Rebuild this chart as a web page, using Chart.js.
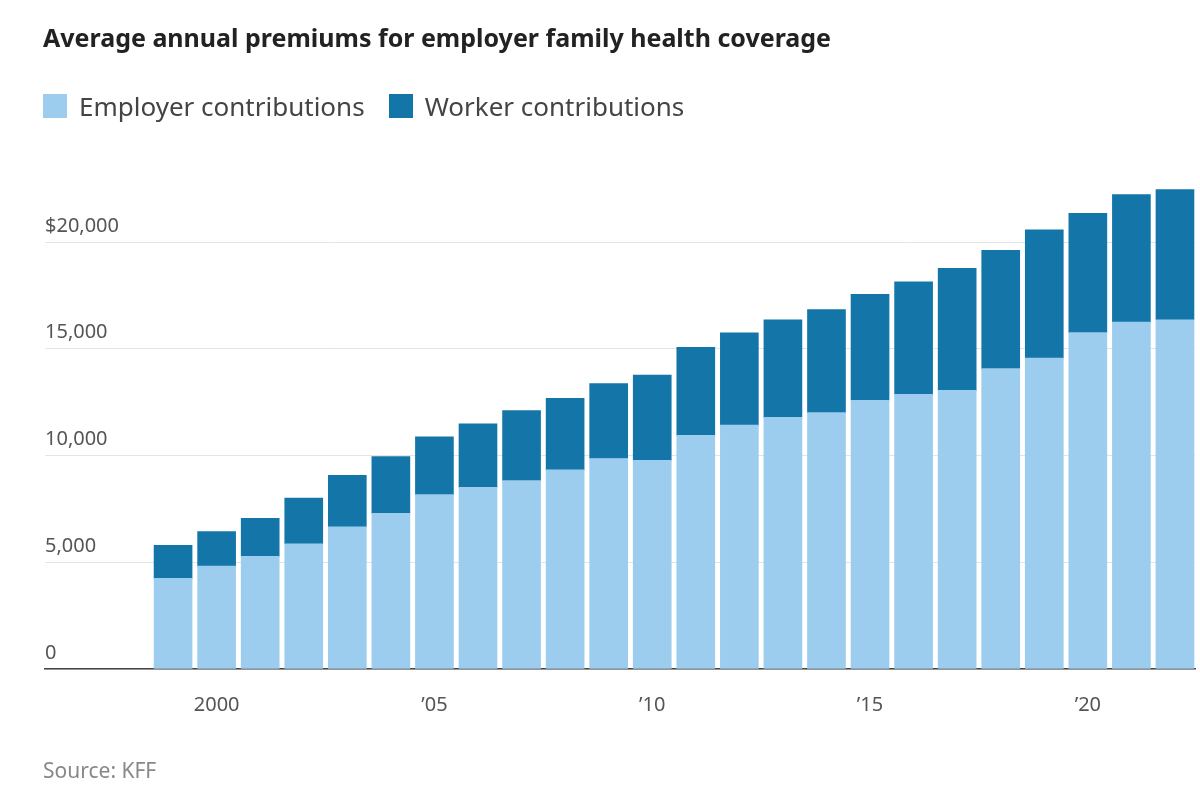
<!DOCTYPE html>
<html>
<head>
<meta charset="utf-8">
<script src="https://cdn.jsdelivr.net/npm/chart.js@4"></script>
<style>
  body { margin: 0; background: #fff; font-family: "Noto Sans", Roboto, sans-serif; }
  #wrap { position: relative; width: 1200px; height: 791px; }
  #titulo { position: absolute; left: 43px; top: 20px; font-size: 25px; font-weight: bold; color: #222; }
  #legenda { position: absolute; left: 43px; top: 88px; font-size: 26px; color: #444; display: flex; align-items: center; }
  .quad { width: 24px; height: 24px; display: inline-block; margin-right: 12px; }
  .item { display: flex; align-items: center; margin-right: 24px; }
  #fonte { position: absolute; left: 43px; top: 756px; font-size: 21px; color: #888; }
  canvas { position: absolute; left: 0; top: 0; }
</style>
</head>
<body>
<div id="wrap">
  <canvas id="grafico" width="1200" height="791"></canvas>
  <div id="titulo">Average annual premiums for employer family health coverage</div>
  <div id="legenda">
    <div class="item"><span class="quad" style="background:#9ccdee"></span>Employer contributions</div>
    <div class="item"><span class="quad" style="background:#1476a8"></span>Worker contributions</div>
  </div>
  <div id="fonte">Source: KFF</div>
</div>
<script>
const anos = [1999, 2000, 2001, 2002, 2003, 2004, 2005, 2006, 2007, 2008, 2009, 2010,
              2011, 2012, 2013, 2014, 2015, 2016, 2017, 2018, 2019, 2020, 2021, 2022];
const empregador = [4247, 4819, 5274, 5866, 6657, 7289, 8167, 8508, 8824, 9325, 9860, 9773,
                    10944, 11429, 11786, 12011, 12591, 12865, 13049, 14069, 14561, 15754, 16253, 16357];
const trabalhador = [1543, 1619, 1787, 2137, 2412, 2661, 2713, 2973, 3281, 3354, 3515, 3997,
                     4129, 4316, 4565, 4823, 4955, 5277, 5714, 5547, 6015, 5588, 5969, 6106];
const ticksY = [0, 5000, 10000, 15000, 20000];
const ticksX = [2000, 2005, 2010, 2015, 2020];
const rotulosX = { 2000: "2000", 2005: "\u201905", 2010: "\u201910", 2015: "\u201915", 2020: "\u201920" };

const ctx = document.getElementById('grafico').getContext('2d');
new Chart(ctx, {
    type: 'bar',
    data: {
        datasets: [
            {
                label: 'Employer contributions',
                data: anos.map((a, i) => ({ x: a, y: empregador[i] })),
                backgroundColor: '#9ccdee',
                barThickness: 38
            },
            {
                label: 'Worker contributions',
                data: anos.map((a, i) => ({ x: a, y: trabalhador[i] })),
                backgroundColor: '#1476a8',
                barThickness: 38
            }
        ]
    },
    options: {
        responsive: false,
        animation: false,
        layout: { padding: { top: 178, bottom: 58, left: 45, right: 5 } },
        plugins: { legend: { display: false }, tooltip: { enabled: false } },
        scales: {
            x: {
                type: 'linear',
                stacked: true,
                offset: false,
                min: 1996.06,
                max: 2022.46,
                afterBuildTicks: s => { s.ticks = ticksX.map(v => ({ value: v })); },
                grid: { display: false, offset: false },
                border: { color: '#444', width: 1.5 },
                ticks: {
                    color: '#555',
                    font: { size: 20, family: 'Noto Sans' },
                    padding: 16,
                    maxRotation: 0,
                    callback: v => rotulosX[v] || ''
                }
            },
            y: {
                stacked: true,
                min: 0,
                max: 23000,
                afterBuildTicks: s => { s.ticks = ticksY.map(v => ({ value: v })); },
                grid: { color: '#e4e4e4', drawTicks: false },
                border: { display: false },
                afterFit: s => { s.width = 0; },
                ticks: {
                    mirror: true,
                    padding: 0,
                    labelOffset: -16,
                    color: '#555',
                    font: { size: 20, family: 'Noto Sans' },
                    callback: v => v === 20000 ? '$20,000' : v.toLocaleString('en-US')
                }
            }
        }
    }
});
</script>
</body>
</html>
